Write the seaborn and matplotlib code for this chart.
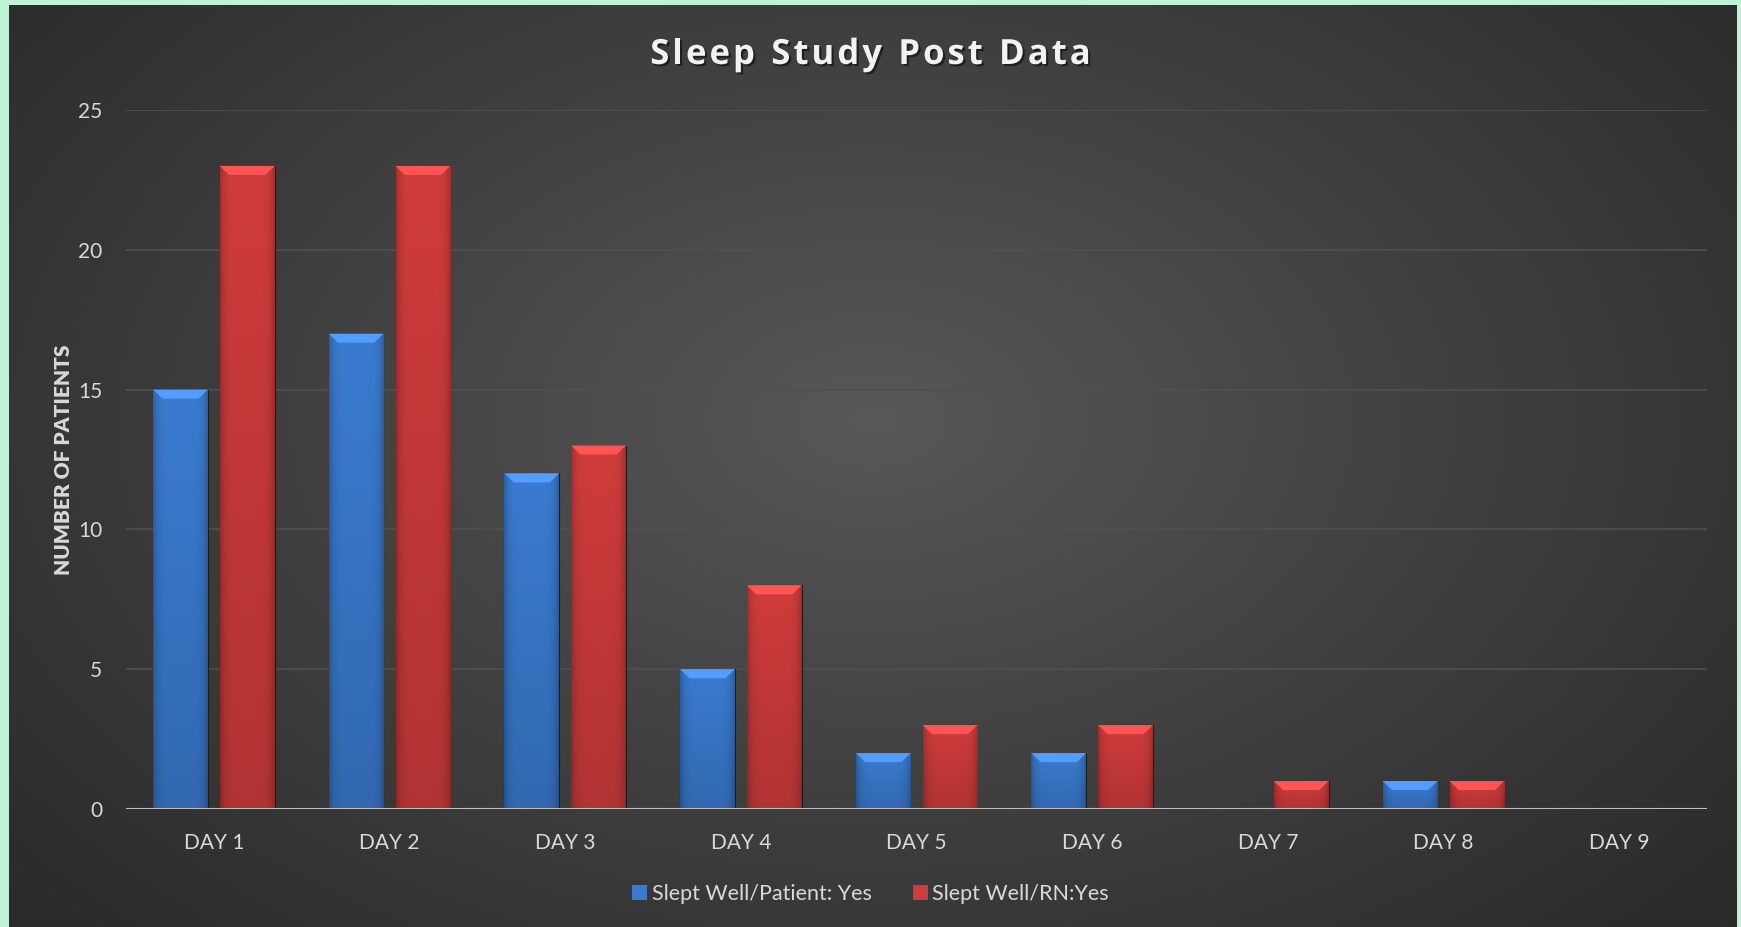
import numpy as np
import pandas as pd
import seaborn as sns
import matplotlib.pyplot as plt
import matplotlib.patheffects as pe
from matplotlib.patches import Polygon, Patch
from matplotlib.colors import to_rgb

days = ['DAY 1', 'DAY 2', 'DAY 3', 'DAY 4', 'DAY 5', 'DAY 6', 'DAY 7', 'DAY 8', 'DAY 9']
patient_yes = [15, 17, 12, 5, 2, 2, 0, 1, 0]
rn_yes = [23, 23, 13, 8, 3, 3, 1, 1, 0]
series = ['Slept Well/Patient: Yes', 'Slept Well/RN:Yes']
y_ticks = [0, 5, 10, 15, 20, 25]
title = 'Sleep Study Post Data'

blue = '#3a7bd0'
red = '#d03c3c'
text_col = '#d9d9d9'

df = pd.DataFrame({
    'day': days * 2,
    'patients': patient_yes + rn_yes,
    'series': [series[0]] * len(days) + [series[1]] * len(days),
})

sns.set_style('dark')
plt.rcParams['font.family'] = ['Lato', 'DejaVu Sans']

W, H = 1741, 927
fig = plt.figure(figsize=(W / 100, H / 100), dpi=100)
fig.patch.set_facecolor('#bff2d6')

# dark radial-gradient background panel
bg = fig.add_axes([9 / W, 0, (1737 - 9) / W, 1 - 5 / H])
bg.set_axis_off()
yy, xx = np.mgrid[0:1:300j, 0:1:600j]
r = np.sqrt(((xx - 0.5) / 0.75) ** 2 + ((yy - 0.45) / 0.9) ** 2)
shade = np.clip(1 - r, 0, 1)
lo, hi = np.array(to_rgb('#262626')), np.array(to_rgb('#585858'))
img = lo + (hi - lo) * shade[..., None] ** 1.1
bg.imshow(img, aspect='auto', extent=[0, 1, 0, 1], origin='upper')
bg.set_xlim(0, 1)
bg.set_ylim(0, 1)

ax = fig.add_axes([126 / W, 1 - 809 / H, (1707 - 126) / W, (809 - 110) / H])
ax.patch.set_alpha(0)

sns.barplot(data=df, x='day', y='patients', hue='series', palette=[blue, red],
            width=0.76, gap=0.18, saturation=1, legend=False, ax=ax, zorder=3)

# soft shading and a bevelled top on each bar
px_y = 25 / (809 - 110)
for p in list(ax.patches):
    x, y0 = p.get_x(), p.get_y()
    w, h = p.get_width(), p.get_height()
    if h <= 0:
        continue
    base = np.array(p.get_facecolor()[:3])
    p.set_edgecolor('#1c1c1c')
    p.set_linewidth(0.8)
    t = np.linspace(-1, 1, 60)
    horiz = 1.0 - 0.22 * np.abs(t) ** 6
    vert = np.linspace(1.0, 0.85, 80)
    col = base[None, None, :] * horiz[None, :, None] * vert[:, None, None]
    im = ax.imshow(np.clip(col, 0, 1), aspect='auto',
                   extent=[x, x + w, y0, y0 + h], origin='upper', zorder=3.5)
    im.set_clip_path(p)
    b = min(9 * px_y, h)
    dx = w * 0.17
    top = y0 + h
    bevel = Polygon([(x, top), (x + w, top), (x + w - dx, top - b), (x + dx, top - b)],
                    closed=True, facecolor=np.clip(base * 1.15 + 0.06, 0, 1),
                    edgecolor='none', zorder=4)
    ax.add_patch(bevel)
ax.set_xlim(-0.5, len(days) - 0.5)
ax.set_ylim(0, 25)

ax.set_yticks(y_ticks)
ax.set_yticklabels([str(t) for t in y_ticks])
ax.tick_params(axis='both', colors=text_col, labelsize=15, length=0)
ax.tick_params(axis='y', pad=17)
ax.tick_params(axis='x', pad=17)
ax.grid(True, axis='y', color='#505050', linewidth=1.2, zorder=0)
ax.grid(False, axis='x')
for s in ax.spines.values():
    s.set_visible(False)
ax.axhline(0, color='#bfbfbf', linewidth=1.5, zorder=5)

ax.set_xlabel('')
ax.set_ylabel('NUMBER OF PATIENTS', color=text_col, fontsize=15, fontweight='heavy', labelpad=4)

# title with a little letter spacing, drawn character by character
renderer = fig.canvas.get_renderer()
title_kw = dict(color='#f2f2f2', fontsize=25, fontweight='bold', va='baseline',
                family=['Open Sans', 'DejaVu Sans'],
                path_effects=[pe.withSimplePatchShadow(offset=(1.5, -1.5),
                                                       shadow_rgbFace='black', alpha=0.5)])
spacing = 3.0
widths = []
for ch in title:
    probe = fig.text(0, 0, ch if ch != ' ' else 'n', **title_kw)
    wpx = probe.get_window_extent(renderer).width
    probe.remove()
    widths.append(wpx * (0.45 if ch == ' ' else 1.0))
total = sum(widths) + spacing * (len(title) - 1)
xpx = W / 2 - total / 2
base_y = 1 - 64 / H
for ch, wpx in zip(title, widths):
    if ch != ' ':
        fig.text(xpx / W, base_y, ch, ha='left', **title_kw)
    xpx += wpx + spacing

handles = [Patch(facecolor=blue, edgecolor='none'), Patch(facecolor=red, edgecolor='none')]
fig.legend(handles, series, loc='center', bbox_to_anchor=(0.5, 1 - 894 / H), ncol=2,
           frameon=False, fontsize=15.5, labelcolor=text_col, handlelength=0.7,
           handleheight=0.7, handletextpad=0.2, columnspacing=1.9)

fig.savefig('out.png', dpi=100, facecolor=fig.get_facecolor())
